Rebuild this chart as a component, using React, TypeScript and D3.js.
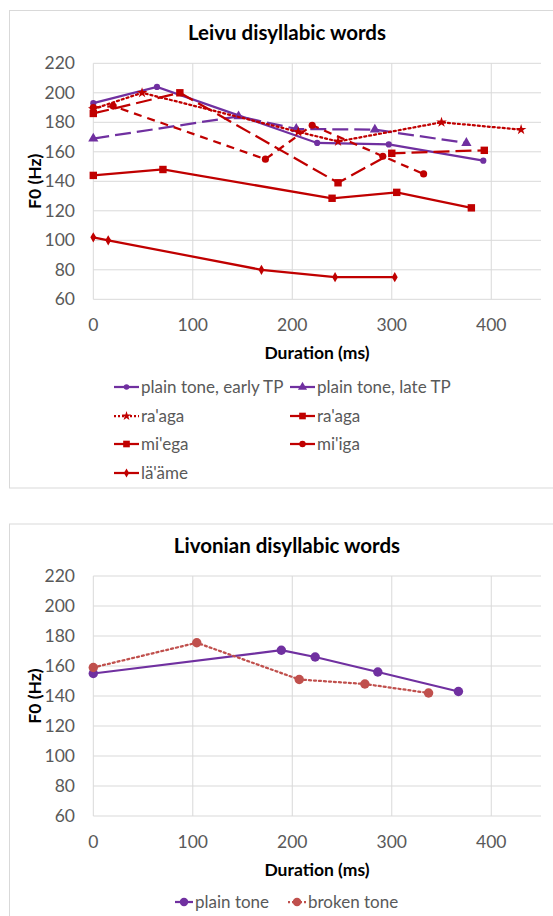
import React from "react";
import * as d3 from "d3";

// axis ticks shared by both panels
const durTicks = [0, 100, 200, 300, 400];
const f0Ticks = [60, 80, 100, 120, 140, 160, 180, 200, 220];

// Leivu series (duration ms, F0 Hz)
const earlyTpX = [0, 64, 225, 297, 392];
const earlyTpY = [193, 204, 166, 165, 154];
const lateTpX = [0, 146, 204, 283, 375];
const lateTpY = [169, 184, 175.5, 175, 166];
const raagaDotX = [0, 49, 206, 246, 350, 430];
const raagaDotY = [189, 200, 173.5, 167, 180, 175];
const raagaDashX = [0, 87, 246, 300, 393];
const raagaDashY = [186, 200, 139, 159, 161];
const miegaX = [0, 70, 240, 305, 380];
const miegaY = [144, 148, 128.5, 132.5, 122];
const miigaX = [0, 20, 173, 220, 291, 332];
const miigaY = [190, 191, 155, 178, 157, 145];
const laameX = [0, 15, 169, 243, 303];
const laameY = [102, 100, 80, 75, 75];

// Livonian series
const plainX = [0, 189, 223, 286, 367];
const plainY = [155, 170.5, 166, 156, 143];
const brokenX = [0, 104, 207, 273, 337];
const brokenY = [159, 175.5, 151, 148, 142];

const PURPLE = "#7030A0";
const RED = "#C00000";
const SOFTRED = "#C0504D";
const GRID = "#D9D9D9";
const TXT = "#595959";
const FONT = "Lato, 'Open Sans', sans-serif";

type Series = {
  name: string;
  xs: number[];
  ys: number[];
  color: string;
  dash?: string;
  marker: d3.SymbolType;
  size: number;
};

const zip = (xs: number[], ys: number[]) => xs.map((x, i) => [x, ys[i]] as [number, number]);

const sym = (type: d3.SymbolType, size: number) => d3.symbol().type(type).size(size)() || "";

const leivu: Series[] = [
  { name: "plain tone, early TP", xs: earlyTpX, ys: earlyTpY, color: PURPLE, marker: d3.symbolCircle, size: 30 },
  { name: "plain tone, late TP", xs: lateTpX, ys: lateTpY, color: PURPLE, dash: "16 6", marker: d3.symbolTriangle, size: 45 },
  { name: "ra'aga", xs: raagaDotX, ys: raagaDotY, color: RED, dash: "2 3", marker: d3.symbolStar, size: 35 },
  { name: "ra'aga", xs: raagaDashX, ys: raagaDashY, color: RED, dash: "16 6", marker: d3.symbolSquare, size: 55 },
  { name: "mi'ega", xs: miegaX, ys: miegaY, color: RED, marker: d3.symbolSquare, size: 55 },
  { name: "mi'iga", xs: miigaX, ys: miigaY, color: RED, dash: "8 6", marker: d3.symbolCircle, size: 40 },
  { name: "lä'äme", xs: laameX, ys: laameY, color: RED, marker: d3.symbolDiamond, size: 30 },
];

const livonian: Series[] = [
  { name: "plain tone", xs: plainX, ys: plainY, color: PURPLE, marker: d3.symbolCircle, size: 70 },
  { name: "broken tone", xs: brokenX, ys: brokenY, color: SOFTRED, dash: "2 3", marker: d3.symbolCircle, size: 70 },
];

type Panel = {
  title: string;
  series: Series[];
  frameTop: number;
  frameBottom: number;
  titleY: number;
  plotTop: number;
  plotBottom: number;
  legend: { x: number; y: number }[];
  legendLine: number;
};

const Chart = ({ p }: { p: Panel }) => {
  const x = d3.scaleLinear().domain([0, 450]).range([93.3, 541]);
  const y = d3.scaleLinear().domain([60, 220]).range([p.plotBottom, p.plotTop]);
  const line = d3
    .line<[number, number]>()
    .x((d) => x(d[0]))
    .y((d) => y(d[1]));

  return (
    <g>
      <rect x={9.5} y={p.frameTop} width={560} height={p.frameBottom - p.frameTop} fill="#fff" stroke={GRID} />
      <text x={287} y={p.titleY} textAnchor="middle" fontSize={20.5} fontWeight="bold" fill="#000">
        {p.title}
      </text>

      {/* grid */}
      {f0Ticks.map((t) => (
        <line key={"h" + t} x1={x(0)} x2={x(450)} y1={y(t)} y2={y(t)} stroke={GRID} strokeWidth={1} />
      ))}
      {durTicks.map((t) => (
        <line key={"v" + t} x1={x(t)} x2={x(t)} y1={y(60)} y2={y(220)} stroke={GRID} strokeWidth={1} />
      ))}

      {/* tick labels */}
      {f0Ticks.map((t) => (
        <text key={"yl" + t} x={75} y={y(t)} dy="0.35em" textAnchor="end" fontSize={17.5} fill={TXT}>
          {t}
        </text>
      ))}
      {durTicks.map((t) => (
        <text key={"xl" + t} x={x(t)} y={y(60) + 26} dy="0.35em" textAnchor="middle" fontSize={17.5} fill={TXT}>
          {t}
        </text>
      ))}
      <text x={317} y={y(60) + 54} dy="0.35em" textAnchor="middle" fontSize={17.5} fontWeight="bold" fill="#000">
        Duration (ms)
      </text>
      <text
        transform={`translate(35,${(y(60) + y(220)) / 2}) rotate(-90)`}
        dy="0.35em"
        textAnchor="middle"
        fontSize={17.5}
        fontWeight="bold"
        fill="#000"
      >
        F0 (Hz)
      </text>

      {/* series */}
      {p.series.map((s, i) => (
        <g key={"s" + i}>
          <path
            d={line(zip(s.xs, s.ys)) || ""}
            fill="none"
            stroke={s.color}
            strokeWidth={2.25}
            strokeDasharray={s.dash}
            strokeLinecap={s.dash === "2 3" ? "round" : "butt"}
          />
          {zip(s.xs, s.ys).map((d, j) => (
            <path key={j} d={sym(s.marker, s.size)} transform={`translate(${x(d[0])},${y(d[1])})`} fill={s.color} />
          ))}
        </g>
      ))}

      {/* legend */}
      {p.series.map((s, i) => {
        const L = p.legend[i];
        return (
          <g key={"l" + i} transform={`translate(${L.x},${L.y})`}>
            <line
              x1={0}
              x2={p.legendLine}
              y1={0}
              y2={0}
              stroke={s.color}
              strokeWidth={2.25}
              strokeDasharray={s.dash === "2 3" ? "2 2" : undefined}
            />
            <path d={sym(s.marker, s.size * 0.8)} transform={`translate(${p.legendLine / 2},0)`} fill={s.color} />
            <text x={p.legendLine + 2} y={0} dy="0.35em" fontSize={17} fill={TXT}>
              {s.name}
            </text>
          </g>
        );
      })}
    </g>
  );
};

const top: Panel = {
  title: "Leivu disyllabic words",
  series: leivu,
  frameTop: 10.5,
  frameBottom: 488,
  titleY: 40,
  plotTop: 63.3,
  plotBottom: 299.3,
  legend: [
    { x: 114, y: 387 },
    { x: 290, y: 387 },
    { x: 114, y: 416 },
    { x: 290, y: 416 },
    { x: 114, y: 444 },
    { x: 290, y: 444 },
    { x: 114, y: 473 },
  ],
  legendLine: 25,
};

const bottom: Panel = {
  title: "Livonian disyllabic words",
  series: livonian,
  frameTop: 524,
  frameBottom: 930,
  titleY: 553,
  plotTop: 576,
  plotBottom: 816,
  legend: [
    { x: 175, y: 902 },
    { x: 288, y: 902 },
  ],
  legendLine: 18,
};

export default function App() {
  return (
    <svg
      width={553}
      height={916}
      style={{ position: "absolute", left: 0, top: 0, background: "#fff" }}
      fontFamily={FONT}
    >
      <rect width={553} height={916} fill="#fff" />
      <Chart p={top} />
      <Chart p={bottom} />
    </svg>
  );
}
